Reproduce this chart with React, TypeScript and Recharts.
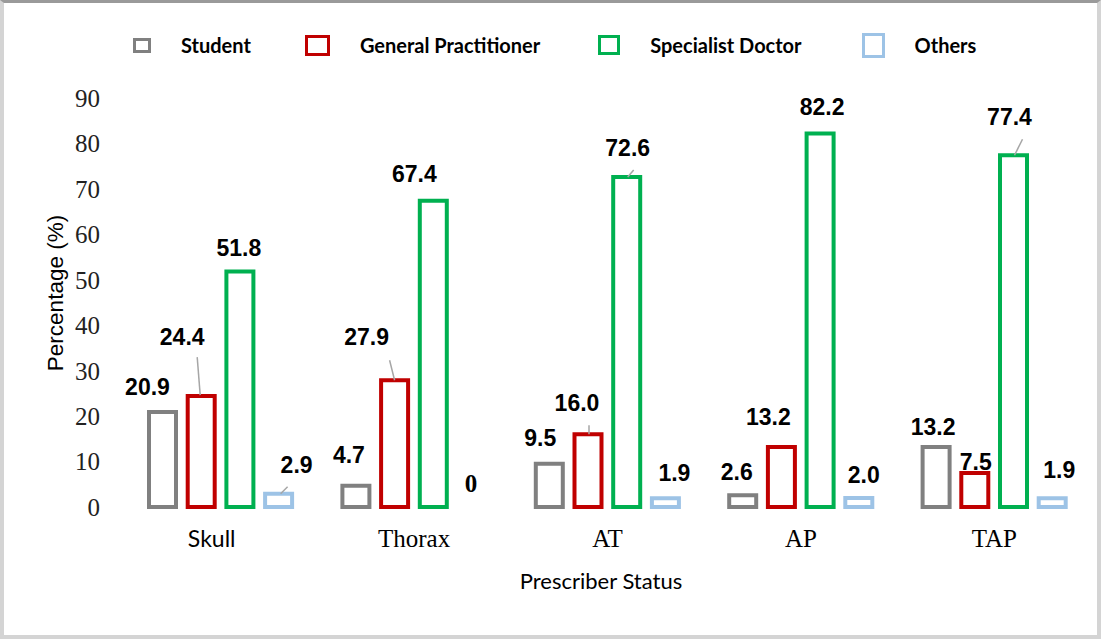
import { BarChart, Bar, XAxis, YAxis, LabelList, Label, Rectangle } from 'recharts';

const categories = ['Skull', 'Thorax', 'AT', 'AP', 'TAP'];
const student = [20.9, 4.7, 9.5, 2.6, 13.2];
const generalPractitioner = [24.4, 27.9, 16.0, 13.2, 7.5];
const specialistDoctor = [51.8, 67.4, 72.6, 82.2, 77.4];
const others = [2.9, 0, 1.9, 2.0, 1.9];
const yTicks = [0, 10, 20, 30, 40, 50, 60, 70, 80, 90];

const series = [
  { key: 'student', name: 'Student', color: '#808080' },
  { key: 'gp', name: 'General Practitioner', color: '#c00000' },
  { key: 'specialist', name: 'Specialist Doctor', color: '#00b050' },
  { key: 'others', name: 'Others', color: '#9dc3e6' },
];

const rows = categories.map((category, i) => ({
  category,
  student: student[i],
  gp: generalPractitioner[i],
  specialist: specialistDoctor[i],
  others: others[i],
}));

// label placement, relative to bar top centre: [dx, dy] and optional leader line
// leader = [startX, startY] from label centre, [endX, endY] from bar top centre
type Place = { dx: number; dy: number; leader?: [number, number, number, number] };
const labelPlaces: Place[][] = [
  [{ dx: -15, dy: -25 }, { dx: -7, dy: -31 }, { dx: -9, dy: -26 }, { dx: -6, dy: -23 }, { dx: -3, dy: -20 }],
  [
    { dx: -19, dy: -59, leader: [15, 20, -1, -1] },
    { dx: -28, dy: -43, leader: [23, 23, 0, 0] },
    { dx: -11, dy: -31, leader: [12, 22, 1, 0] },
    { dx: -13, dy: -30 },
    { dx: 1, dy: -11 },
  ],
  [
    { dx: -1, dy: -24 },
    { dx: -19, dy: -27 },
    { dx: 1, dy: -29, leader: [6, 22, 1, 0] },
    { dx: 2, dy: -26 },
    { dx: -4, dy: -38, leader: [13, 22, 1, 0] },
  ],
  [
    { dx: 18, dy: -29, leader: [-9, 22, 2, 0] },
    { dx: -1, dy: -23 },
    { dx: 9, dy: -25 },
    { dx: 5, dy: -23 },
    { dx: 7, dy: -28 },
  ],
];

const legendIcons = [
  { w: 18, h: 15, gap: 0 },
  { w: 25, h: 21, gap: 54 },
  { w: 22, h: 20, gap: 58 },
  { w: 23, h: 25, gap: 60 },
];

const makeLabel = (s: number) => (props: any) => {
  const { x, y, width, value, index } = props;
  const place = labelPlaces[s][index];
  const cx = x + width / 2;
  const lx = cx + place.dx;
  const ly = y + place.dy;
  const zero = Number(value) === 0;
  const text = zero ? '0' : Number(value).toFixed(1);
  return (
    <g>
      {place.leader && (
        <line
          x1={lx + place.leader[0]}
          y1={ly + place.leader[1]}
          x2={cx + place.leader[2]}
          y2={y + place.leader[3]}
          stroke="#a6a6a6"
          strokeWidth={1.5}
        />
      )}
      <text
        x={lx}
        y={ly}
        textAnchor="middle"
        dominantBaseline="central"
        fontFamily={zero ? 'Liberation Serif' : 'Liberation Sans'}
        fontWeight="bold"
        fontSize={zero ? 25 : 23}
        fill="#000"
      >
        {text}
      </text>
    </g>
  );
};

// zero-height bars are kept (via minPointSize) so their label shows, but drawn empty
const OutlineBar = (props: any) => {
  const key = props.tooltipPayload?.[0]?.dataKey;
  const v = props.payload && key ? props.payload[key] : props.value;
  if (Number(v) === 0) return <g />;
  return <Rectangle {...props} />;
};

const XTick = (props: any) => {
  const { x, y, payload } = props;
  const sans = payload.value === 'Skull';
  return (
    <text
      x={sans ? x - 9 : x}
      y={y + 38}
      textAnchor="middle"
      fontFamily={sans ? 'Lato' : 'Liberation Serif'}
      fontSize={sans ? 23 : 25}
      fill="#000"
    >
      {payload.value}
    </text>
  );
};

const YTitle = () => (
  <text
    x={55}
    y={293}
    transform="rotate(-90, 55, 293)"
    textAnchor="middle"
    dominantBaseline="central"
    fontFamily="Liberation Sans"
    fontSize={22.5}
    fill="#000"
  >
    Percentage (%)
  </text>
);

const XTitle = (props: any) => {
  const { viewBox } = props;
  return (
    <text
      x={601}
      y={viewBox.y + 73}
      textAnchor="middle"
      dominantBaseline="central"
      fontFamily="Lato"
      fontSize={22}
      fill="#000"
    >
      Prescriber Status
    </text>
  );
};

export default function App() {
  return (
    <div style={{ position: 'absolute', left: 0, top: 0, width: 1101, height: 639, background: '#fff' }}>
      <div
        style={{
          position: 'absolute',
          inset: 0,
          border: '4px solid #d4d4d4',
          borderTop: '3px solid #9a9a9a',
          boxSizing: 'border-box',
          pointerEvents: 'none',
        }}
      />
      <div
        style={{
          position: 'absolute',
          left: 133,
          top: 31,
          height: 28,
          display: 'flex',
          alignItems: 'center',
          fontFamily: 'Lato',
          fontWeight: 'bold',
          fontSize: 20,
          color: '#000',
          whiteSpace: 'nowrap',
        }}
      >
        {series.map((s, i) => (
          <div key={s.key} style={{ display: 'flex', alignItems: 'center', marginLeft: legendIcons[i].gap }}>
            <span
              style={{
                display: 'inline-block',
                width: legendIcons[i].w,
                height: legendIcons[i].h,
                border: `3px solid ${s.color}`,
                boxSizing: 'border-box',
              }}
            />
            <span style={{ marginLeft: 30 }}>{s.name}</span>
          </div>
        ))}
      </div>
      <div style={{ position: 'absolute', left: 0, top: 0 }}>
        <BarChart
          width={1101}
          height={639}
          data={rows}
          margin={{ top: 98, right: 10, bottom: 0, left: 0 }}
          barSize={27}
          barGap={11.7}
        >
          <XAxis dataKey="category" height={132} axisLine={false} tickLine={false} tickSize={0} tick={<XTick />} interval={0}>
            <Label content={<XTitle />} />
          </XAxis>
          <YAxis
            width={124}
            domain={[0, 90]}
            ticks={yTicks}
            axisLine={false}
            tickLine={false}
            tickSize={0}
            tickMargin={24}
            tick={{ fontFamily: 'Liberation Serif', fontSize: 25, fill: '#222' }}
          >
            <Label content={<YTitle />} />
          </YAxis>
          {series.map((s, i) => (
            <Bar
              key={s.key}
              dataKey={s.key}
              name={s.name}
              fill="#fff"
              stroke={s.color}
              strokeWidth={4}
              minPointSize={1}
              shape={<OutlineBar />}
              isAnimationActive={false}
            >
              <LabelList dataKey={s.key} content={makeLabel(i)} />
            </Bar>
          ))}
        </BarChart>
      </div>
    </div>
  );
}
